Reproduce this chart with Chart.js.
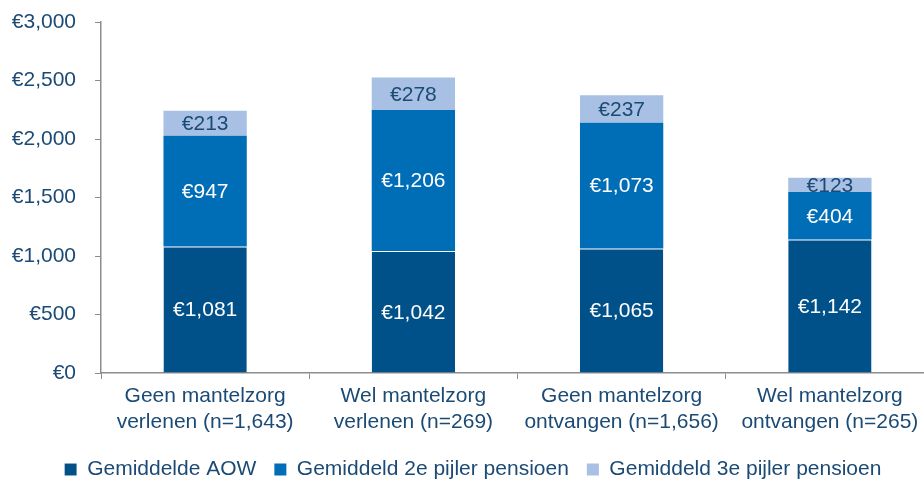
<!DOCTYPE html>
<html>
<head>
<meta charset="utf-8">
<script src="https://cdn.jsdelivr.net/npm/chart.js@4/dist/chart.umd.min.js"></script>
<style>
  html, body { margin: 0; padding: 0; background: #fff; overflow: hidden; }
  #wrap { width: 934px; height: 480px; }
</style>
</head>
<body>
<div id="wrap"><canvas id="chart" width="934" height="480"></canvas></div>
<script>
const categories = [
    ["Geen mantelzorg", "verlenen (n=1,643)"],
    ["Wel mantelzorg", "verlenen (n=269)"],
    ["Geen mantelzorg", "ontvangen (n=1,656)"],
    ["Wel mantelzorg", "ontvangen (n=265)"]
];
const aow = [1081, 1042, 1065, 1142];
const pillar2 = [947, 1206, 1073, 404];
const pillar3 = [213, 278, 237, 123];
const seriesNames = ["Gemiddelde AOW", "Gemiddeld 2e pijler pensioen", "Gemiddeld 3e pijler pensioen"];

const navy = "#1b4a75",
    axisGray = "#8c8c8c",
    fontFamily = '"Liberation Sans", Arial, sans-serif',
    labelColors = ["#ffffff", "#ffffff", navy];

function euro(v) {
    return "€" + v.toLocaleString("en-US");
}

// values inside each bar segment
const barLabels = {
    id: "barLabels",
    afterDatasetsDraw(chart) {
        const ctx = chart.ctx;
        chart.data.datasets.forEach((ds, i) => {
            chart.getDatasetMeta(i).data.forEach((bar, j) => {
                const p = bar.getProps(["x", "y", "base"], true);
                ctx.save();
                ctx.font = "21px " + fontFamily;
                ctx.fillStyle = labelColors[i];
                ctx.textAlign = "center";
                ctx.textBaseline = "middle";
                ctx.fillText(euro(ds.data[j]), p.x, (p.y + p.base) / 2 + 1);
                ctx.restore();
            });
        });
    }
};

// fixed legend band at the bottom
const legendBand = {
    id: "legendBand",
    beforeUpdate(chart) {
        const lg = chart.legend;
        if (lg && !lg._banded) {
            const fit = lg.fit;
            lg.fit = function() {
                fit.call(this);
                this.height = 39;
            };
            lg._banded = true;
        }
    }
};

Chart.defaults.font.family = fontFamily;
Chart.defaults.color = navy;

new Chart(document.getElementById("chart"), {
    type: "bar",
    data: {
        labels: categories,
        datasets: [{
            label: seriesNames[0],
            data: aow,
            backgroundColor: "#005189",
            borderColor: "rgba(255,255,255,0.25)",
            borderWidth: { top: 1, left: 0, right: 0, bottom: 0 },
            borderSkipped: false,
        }, {
            label: seriesNames[1],
            data: pillar2,
            backgroundColor: "#006db7",
            borderWidth: 0,
        }, {
            label: seriesNames[2],
            data: pillar3,
            backgroundColor: "#a7c0e3",
            borderWidth: 0,
        }]
    },
    options: {
        responsive: false,
        animation: false,
        barPercentage: 0.4,
        categoryPercentage: 1,
        layout: {
            padding: { left: 12, top: 22, right: 0, bottom: 0 }
        },
        scales: {
            x: {
                stacked: true,
                afterFit: s => { s.height = 68; },
                grid: {
                    display: true,
                    drawOnChartArea: false,
                    drawTicks: true,
                    tickLength: 6,
                    color: axisGray,
                    offset: true
                },
                border: { color: axisGray, width: 1.5 },
                ticks: {
                    color: navy,
                    padding: 4,
                    maxRotation: 0,
                    autoSkip: false,
                    font: { size: 21, lineHeight: 1.24 }
                }
            },
            y: {
                stacked: true,
                min: 0,
                max: 3000,
                afterFit: s => {
                    s.width = 89;
                    s.paddingTop = 0;
                    s.paddingBottom = 0;
                },
                grid: {
                    drawOnChartArea: false,
                    drawTicks: true,
                    tickLength: 6,
                    color: axisGray
                },
                border: { color: axisGray, width: 1.5 },
                ticks: {
                    stepSize: 500,
                    color: navy,
                    padding: 19,
                    font: { size: 21 },
                    callback: v => euro(v)
                }
            }
        },
        plugins: {
            legend: {
                position: "bottom",
                labels: {
                    color: navy,
                    boxWidth: 12,
                    boxHeight: 12,
                    padding: 18,
                    font: { size: 21 }
                }
            },
            tooltip: { enabled: false }
        }
    },
    plugins: [barLabels, legendBand]
});
</script>
</body>
</html>
